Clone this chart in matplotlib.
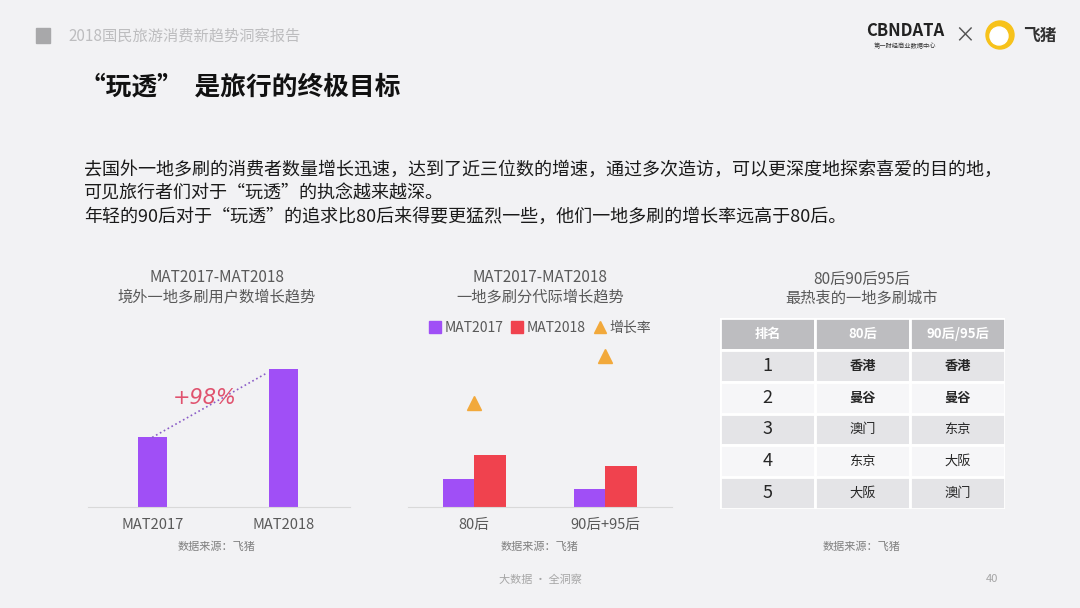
import numpy as np
import matplotlib.pyplot as plt
from matplotlib.patches import Rectangle, Ellipse
from matplotlib.lines import Line2D

plt.rcParams['font.family'] = ['Noto Sans CJK SC', 'DejaVu Sans']

# ---- data ----
# left chart: users doing repeat visits abroad (index)
periods = ['MAT2017', 'MAT2018']
users = [100, 198]

# middle chart: by generation
generations = ['80后', '90后+95后']
mat2017 = [28, 18]
mat2018 = [52, 41]
growth = [0.86, 1.25]

# right table
rank = ['1', '2', '3', '4', '5']
city_80 = ['香港', '曼谷', '澳门', '东京', '大阪']
city_90 = ['香港', '曼谷', '东京', '大阪', '澳门']
table_cols = ['排名', '80后', '90后/95后']

W, H = 1080, 608
BG = '#f2f2f4'
PURPLE = '#a04ff6'
RED = '#f0424e'
ORANGE = '#f2a93b'
GREY_TXT = '#595959'


def box(x0, y0, x1, y1):
    # pixel box -> figure rect
    return [x0 / W, 1 - y1 / H, (x1 - x0) / W, (y1 - y0) / H]


def ftext(x, y, s, **kw):
    fig.text(x / W, 1 - y / H, s, **kw)


fig = plt.figure(figsize=(W / 100, H / 100), dpi=100, facecolor=BG)

# ---- page header ----
fig.patches.append(Rectangle((36 / W, 1 - 43 / H), 14 / W, 15 / H,
                             transform=fig.transFigure, color='#a8a8aa'))
ftext(68, 36, '2018国民旅游消费新趋势洞察报告', fontsize=11, color='#bdbdbf', va='center')
ftext(80, 87, '“玩透”  是旅行的终极目标', fontsize=18.5, fontweight='bold', color='#111111', va='center')

# logos (approximation)
ftext(905, 31, 'CBNDATA', fontsize=12, fontweight='bold', color='#222222', ha='center', va='center')
ftext(905, 46, '第一财经商业数据中心', fontsize=4.5, color='#333333', ha='center', va='center')
ftext(965, 35, '×', fontsize=15, color='#555555', ha='center', va='center')
fig.patches.append(Ellipse((1000 / W, 1 - 35 / H), 28 / W, 28 / H, transform=fig.transFigure,
                           color='#f7c21a'))
fig.patches.append(Ellipse((999 / W, 1 - 36 / H), 18 / W, 18 / H, transform=fig.transFigure,
                           color='white'))
ftext(1040, 36, '飞猪', fontsize=12, fontweight='bold', color='#333333', ha='center', va='center')

# paragraph
para = ['去国外一地多刷的消费者数量增长迅速，达到了近三位数的增速，通过多次造访，可以更深度地探索喜爱的目的地，',
        '可见旅行者们对于“玩透”的执念越来越深。',
        '年轻的90后对于“玩透”的追求比80后来得要更猛烈一些，他们一地多刷的增长率远高于80后。']
for i, line in enumerate(para):
    ftext(84, 170 + i * 23.5, line, fontsize=13.0, color='#1a1a1a', va='center')

# ---- left chart ----
ax1 = fig.add_axes(box(88, 340, 350, 507))
ax1.set_facecolor('none')
x1 = np.arange(len(periods))
bw1 = 0.22
ax1.bar(x1, users, width=bw1, color=PURPLE, zorder=2)
ax1.set_xlim(-0.49, 1.51)
ax1.set_ylim(0, 240)
ax1.plot([x1[0], x1[1] - bw1 / 2 - 0.01], [users[0], users[1] * 0.975],
         linestyle=':', color='#8a5cc7', linewidth=1.2, zorder=3)
pct = (users[1] / users[0] - 1) * 100
ax1.text(0.40, 156, '+{:.0f}%'.format(pct), fontsize=15, style='italic', family='DejaVu Sans',
         color='#e0526e', ha='center', va='center')
for s in ['top', 'right', 'left']:
    ax1.spines[s].set_visible(False)
ax1.spines['bottom'].set_color('#d9d9d9')
ax1.set_yticks([])
ax1.set_xticks(x1)
ax1.set_xticklabels(periods, fontsize=10.5, color=GREY_TXT)
ax1.tick_params(axis='x', length=0, pad=8)
ftext(217, 277, 'MAT2017-MAT2018', fontsize=11, color=GREY_TXT, ha='center', va='center')
ftext(217, 297, '境外一地多刷用户数增长趋势', fontsize=11, color=GREY_TXT, ha='center', va='center')
ftext(217, 547, '数据来源：飞猪', fontsize=8, color='#7f7f7f', ha='center', va='center')

# ---- middle chart ----
ax2 = fig.add_axes(box(408, 340, 672, 507))
ax2.set_facecolor('none')
x2 = np.arange(len(generations))
bw2 = 0.24
ax2.bar(x2 - bw2 / 2, mat2017, width=bw2, color=PURPLE, zorder=2)
ax2.bar(x2 + bw2 / 2, mat2018, width=bw2, color=RED, zorder=2)
ax2.set_xlim(-0.504, 1.51)
ax2.set_ylim(0, 167)
for s in ['top', 'right', 'left']:
    ax2.spines[s].set_visible(False)
ax2.spines['bottom'].set_color('#d9d9d9')
ax2.set_yticks([])
ax2.set_xticks(x2)
ax2.set_xticklabels(generations, fontsize=10.5, color=GREY_TXT)
ax2.tick_params(axis='x', length=0, pad=8)

ax2b = ax2.twinx()
ax2b.plot(x2, growth, linestyle='none', marker='^', markersize=10, color=ORANGE, zorder=3)
ax2b.set_ylim(0, 1.38)
ax2b.set_yticks([])
for s in ax2b.spines.values():
    s.set_visible(False)

handles = [Line2D([], [], linestyle='none', marker='s', markersize=8, color=PURPLE),
           Line2D([], [], linestyle='none', marker='s', markersize=8, color=RED),
           Line2D([], [], linestyle='none', marker='^', markersize=9, color=ORANGE)]
fig.legend(handles, ['MAT2017', 'MAT2018', '增长率'], loc='center',
           bbox_to_anchor=(540 / W, 1 - 328 / H), ncol=3, frameon=False,
           fontsize=10, labelcolor=GREY_TXT, handlelength=0.8, handletextpad=0.3,
           columnspacing=0.6)
ftext(540, 277, 'MAT2017-MAT2018', fontsize=11, color=GREY_TXT, ha='center', va='center')
ftext(540, 297, '一地多刷分代际增长趋势', fontsize=11, color=GREY_TXT, ha='center', va='center')
ftext(540, 547, '数据来源：飞猪', fontsize=8, color='#7f7f7f', ha='center', va='center')

# ---- right table ----
ax3 = fig.add_axes(box(720, 318, 1005, 509))
ax3.set_xlim(0, 3)
ax3.set_ylim(6, 0)
ax3.axis('off')
for j, col in enumerate(table_cols):
    ax3.add_patch(Rectangle((j, 0), 1, 1, facecolor='#bdbdc0', edgecolor='white', linewidth=2))
    ax3.text(j + 0.5, 0.5, col, fontsize=9.5, fontweight='bold', color='white',
             ha='center', va='center')
for i in range(len(rank)):
    fc = '#e4e4e7' if i % 2 == 0 else '#f6f6f8'
    row = [rank[i], city_80[i], city_90[i]]
    for j, val in enumerate(row):
        ax3.add_patch(Rectangle((j, i + 1), 1, 1, facecolor=fc, edgecolor='white', linewidth=2))
        if j == 0:
            ax3.text(j + 0.5, i + 1.5, val, fontsize=13, color='#262626', ha='center', va='center')
        else:
            ax3.text(j + 0.5, i + 1.5, val, fontsize=9.5, color='#262626', ha='center', va='center',
                     fontweight='bold' if i < 2 else 'normal')
ftext(862, 279, '80后90后95后', fontsize=11, color=GREY_TXT, ha='center', va='center')
ftext(862, 298, '最热衷的一地多刷城市', fontsize=11, color=GREY_TXT, ha='center', va='center')
ftext(862, 547, '数据来源：飞猪', fontsize=8, color='#7f7f7f', ha='center', va='center')

# ---- footer ----
ftext(540, 580, '大数据 · 全洞察', fontsize=8, color='#a6a6a6', ha='center', va='center')
ftext(992, 579, '40', fontsize=8, color='#a6a6a6', ha='center', va='center')

fig.savefig('out.png', dpi=100, facecolor=BG)
